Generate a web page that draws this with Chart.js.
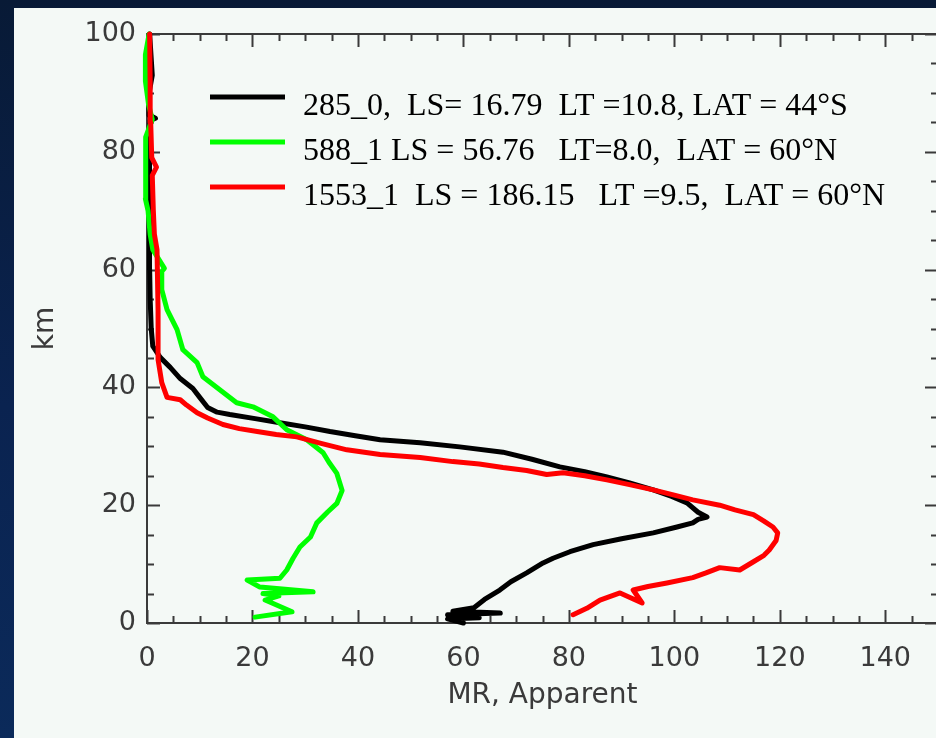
<!DOCTYPE html>
<html>
<head>
<meta charset="utf-8">
<script src="https://cdn.jsdelivr.net/npm/chart.js@4.4.0/dist/chart.umd.min.js"></script>
<style>
  html, body {
    margin: 0;
    padding: 0;
    width: 936px;
    height: 738px;
    overflow: hidden;
    background: linear-gradient(180deg, #081a36 0%, #0a2350 55%, #0b2a5a 100%);
  }
  #panel {
    position: absolute;
    left: 14px;
    top: 8px;
    width: 940px;
    height: 740px;
    background: #f4f9f6;
  }
  #plot {
    position: absolute;
    left: 0;
    top: 0;
  }
</style>
</head>
<body>
<div id="panel"></div>
<canvas id="plot" width="960" height="738"></canvas>
<script>
// Profiles as [MR, km] pairs, from the ground up
const profile285 = [
  [60, 0], [57, 0.7], [63, 0.9], [57, 1.4], [67, 1.7], [58, 2.0], [62, 2.6],
  [64, 4.0], [66.9, 5.6], [69, 7.0], [72, 8.5], [75.1, 10.2], [77, 11.0],
  [80.2, 12.1], [84.6, 13.3], [90, 14.3], [96, 15.3], [100.5, 16.3],
  [103.5, 17.0], [104.5, 17.6], [106.2, 18.0], [104.5, 18.8], [102.4, 20.4],
  [99.5, 21.5], [96, 22.6], [91.5, 23.8], [87.2, 24.8], [83, 25.7],
  [78.3, 26.5], [73, 27.8], [67.5, 29.0], [59.3, 29.9], [51.8, 30.6],
  [44.2, 31.1], [39.5, 31.8], [34.7, 32.5], [30, 33.3], [25.2, 34.0],
  [20.5, 34.7], [15.7, 35.4], [13.3, 35.8], [11.5, 36.6], [10, 38.3],
  [8.7, 39.8], [6.3, 41.5], [4.4, 43.4], [2.5, 45.1], [1.1, 47.0],
  [0.8, 50], [0.6, 55], [0.5, 60], [0.5, 65], [0.4, 70], [0.5, 75],
  [0.5, 80], [0.6, 85.3], [1.6, 85.7], [0.5, 86.2], [0.4, 90], [1.0, 93],
  [0.5, 100]
];

const profile588 = [
  [20.5, 1.0], [27.5, 1.9], [22.4, 3.9], [25, 4.6], [22, 5.0], [31.5, 5.3],
  [21.4, 6.1], [19, 7.3], [25.2, 7.6], [26.5, 9.0], [27.7, 11.0],
  [29, 12.9], [31, 14.6], [32.2, 17.0], [34.2, 18.8], [36, 20.3],
  [37, 22.5], [36, 25.4], [34.5, 27.3], [33.4, 28.9], [30.3, 31.1],
  [26.5, 32.8], [23.9, 35.0], [20.1, 36.7], [17, 37.4], [13.8, 39.6],
  [10.6, 41.8], [9.5, 44.2], [6.8, 46.4], [5.7, 49.8], [3.8, 53.2],
  [2.8, 56.6], [2.8, 59.7], [3.3, 60.2], [1.1, 63.4], [0.6, 66], [0.2, 70],
  [-0.3, 72], [-0.3, 80], [-0.2, 82.5], [1.0, 85.5], [0.3, 88],
  [-0.3, 92], [-0.3, 96.5], [0.4, 100]
];

const profile1553 = [
  [80.8, 1.4], [83.4, 2.5], [85.9, 3.9], [89.7, 5.1], [93.9, 3.4],
  [92.2, 5.6], [95, 6.2], [98.6, 6.8], [103.5, 7.7], [106, 8.5],
  [108.6, 9.4], [112.4, 9.0], [115, 10.4], [117, 11.5], [118, 12.4],
  [119.3, 14.0], [119.6, 15.3], [118.7, 16.3], [117, 17.3], [115, 18.4],
  [111.5, 19.2], [108.6, 20.0], [103.5, 20.9], [100, 21.7], [96, 22.6],
  [91.5, 23.5], [87.2, 24.3], [83, 25.0], [78.9, 25.5], [75.8, 25.2],
  [72, 25.9], [67.5, 26.4], [63, 27.0], [58, 27.4], [51.8, 28.1],
  [44.2, 28.6], [37.9, 29.4], [33, 30.5], [28.4, 31.6], [24.5, 32.0],
  [20.9, 32.5], [17.5, 33.0], [14.4, 33.7], [11.5, 34.8], [9.5, 35.7],
  [7.5, 37.0], [6.3, 37.9], [3.8, 38.3], [2.8, 40.8], [2.1, 44.7],
  [2.1, 53], [1.9, 63.4], [1.4, 66], [1.2, 70], [1.0, 76], [1.8, 77.4],
  [0.9, 79], [0.7, 85], [0.6, 92], [0.5, 100]
];

const seriesLabels = [
  "285_0,  LS= 16.79  LT =10.8, LAT = 44\u00b0S",
  "588_1 LS = 56.76   LT=8.0,  LAT = 60\u00b0N",
  "1553_1  LS = 186.15   LT =9.5,  LAT = 60\u00b0N"
];
const seriesColors = ["#000000", "#00ff00", "#ff0000"];

const xTitle = "MR, Apparent";
const yTitle = "km";

const axisColor = "#3a3a3a";
const sansFont = "'DejaVu Sans', sans-serif";

function toPoints(profile) {
  return profile.map((p) => ({ x: p[0], y: p[1] }));
}

// Box frame with IDL-style inward ticks (major every 20, minor every 5)
const framePlugin = {
  id: "frame",
  beforeDatasetsDraw(chart) {
    const ctx = chart.ctx;
    const area = chart.chartArea;
    const xs = chart.scales.x;
    const ys = chart.scales.y;
    ctx.save();
    ctx.strokeStyle = axisColor;
    ctx.lineWidth = 2;
    ctx.strokeRect(area.left, area.top, area.right - area.left, area.bottom - area.top);
    ctx.beginPath();
    for (let v = 0; v <= 150; v += 5) {
      const px = Math.round(xs.getPixelForValue(v)) + 0.5;
      const len = v % 20 === 0 ? 13 : 7;
      ctx.moveTo(px, area.bottom);
      ctx.lineTo(px, area.bottom - len);
      ctx.moveTo(px, area.top);
      ctx.lineTo(px, area.top + len);
    }
    for (let v = 0; v <= 100; v += 5) {
      const py = Math.round(ys.getPixelForValue(v)) + 0.5;
      const len = v % 20 === 0 ? 13 : 7;
      ctx.moveTo(area.left, py);
      ctx.lineTo(area.left + len, py);
      ctx.moveTo(area.right, py);
      ctx.lineTo(area.right - len, py);
    }
    ctx.stroke();
    ctx.restore();
  },
};

// Legend drawn inside the plot, upper middle
const insideLegend = {
  id: "insideLegend",
  afterDraw(chart) {
    const ctx = chart.ctx;
    ctx.save();
    ctx.font = "32px 'Liberation Serif', 'Times New Roman', serif";
    ctx.textBaseline = "alphabetic";
    ctx.fillStyle = "#000";
    chart.data.datasets.forEach((ds, i) => {
      const lineY = 97 + i * 45;
      ctx.strokeStyle = ds.borderColor;
      ctx.lineWidth = 5;
      ctx.beginPath();
      ctx.moveTo(210, lineY);
      ctx.lineTo(285, lineY);
      ctx.stroke();
      ctx.fillText(ds.label, 303, lineY + 18);
    });
    ctx.restore();
  },
};

const datasets = [profile285, profile588, profile1553].map((profile, i) => ({
  label: seriesLabels[i],
  data: toPoints(profile),
  showLine: true,
  borderColor: seriesColors[i],
  backgroundColor: seriesColors[i],
  borderWidth: 5,
  borderJoinStyle: "round",
  borderCapStyle: "round",
  pointRadius: 0,
  tension: 0,
  clip: false,
  // red drawn on top, black underneath
  order: 2 - i,
}));

new Chart(document.getElementById("plot"), {
  type: "scatter",
  data: { datasets: datasets },
  options: {
    responsive: false,
    animation: false,
    devicePixelRatio: 1,
    layout: {
      padding: { left: 0, top: 34, right: 22, bottom: 0 },
    },
    plugins: {
      legend: { display: false },
      tooltip: { enabled: false },
    },
    scales: {
      x: {
        type: "linear",
        position: "bottom",
        min: 0,
        max: 150,
        grid: { display: false, drawTicks: false },
        border: { display: false },
        ticks: {
          stepSize: 20,
          includeBounds: false,
          maxRotation: 0,
          padding: 20,
          color: axisColor,
          font: { family: sansFont, size: 27 },
        },
        title: {
          display: true,
          text: xTitle,
          color: axisColor,
          font: { family: sansFont, size: 28 },
          padding: { top: 0, bottom: 25 },
        },
        afterFit(scale) {
          scale.height = 115;
        },
      },
      y: {
        type: "linear",
        position: "left",
        min: 0,
        max: 100,
        grid: { display: false, drawTicks: false },
        border: { display: false },
        ticks: {
          stepSize: 20,
          padding: 11,
          color: axisColor,
          font: { family: sansFont, size: 27 },
        },
        title: {
          display: true,
          text: yTitle,
          color: axisColor,
          font: { family: sansFont, size: 28 },
          padding: { top: 29, bottom: 0 },
        },
        afterFit(scale) {
          scale.width = 147;
        },
      },
    },
  },
  plugins: [framePlugin, insideLegend],
});
</script>
</body>
</html>
